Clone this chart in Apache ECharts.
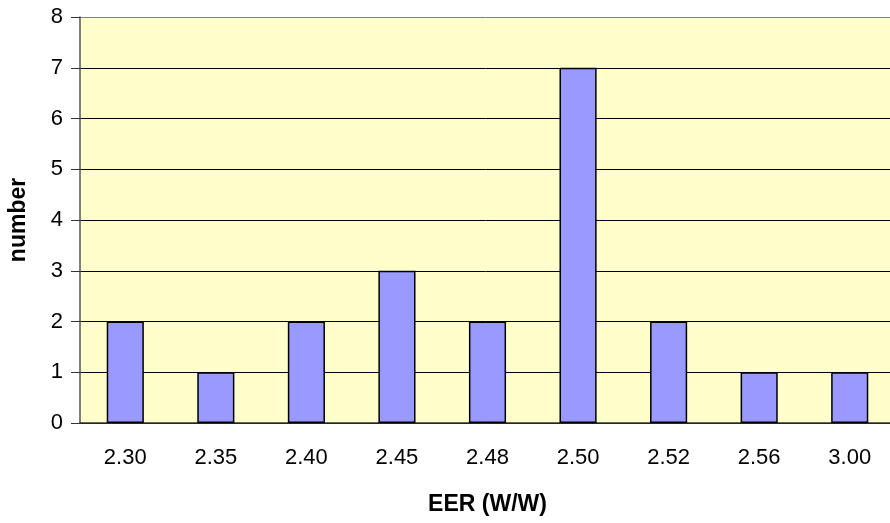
<!DOCTYPE html>
<html>
<head>
<meta charset="utf-8">
<script src="https://cdn.jsdelivr.net/npm/echarts@6/dist/echarts.min.js"></script>
<style>
  html, body { margin: 0; padding: 0; background: #fff; }
  #chart { width: 890px; height: 523px; }
</style>
</head>
<body>
<div id="chart"></div>
<script>
// EER categories and counts
const categories = ['2.30', '2.35', '2.40', '2.45', '2.48', '2.50', '2.52', '2.56', '3.00'];
const counts = [2, 1, 2, 3, 2, 7, 2, 1, 1];

// gridline colours, 0..8 (top one is the gray plot border)
const gridColors = ['#000', '#000', '#000', '#000', '#000', '#000', '#000', '#000', '#808080'];

const chart = echarts.init(document.getElementById('chart'));
chart.setOption({
  animation: false,
  textStyle: { fontFamily: 'Liberation Sans, Arial, sans-serif' },
  grid: {
    left: 80, right: -5, top: 17, bottom: 100,
    outerBoundsMode: 'none',
    backgroundColor: '#FFFFCC', show: true, borderWidth: 0
  },
  xAxis: {
    type: 'category',
    data: categories,
    name: 'EER (W/W)',
    nameLocation: 'middle',
    nameGap: 70,
    nameTextStyle: { fontSize: 23, fontWeight: 'bold', color: '#000' },
    axisLine: { lineStyle: { color: '#333', width: 1.5 } },
    axisTick: { length: 6, lineStyle: { color: '#333' } },
    axisLabel: { fontSize: 22, color: '#000', margin: 24 }
  },
  yAxis: {
    type: 'value',
    min: 0, max: 8, interval: 1,
    name: 'number',
    nameLocation: 'middle',
    nameGap: 50,
    nameTextStyle: { fontSize: 23, fontWeight: 'bold', color: '#000' },
    axisLine: { show: true, lineStyle: { color: '#555', width: 1.5 } },
    axisTick: { show: true, length: 9, lineStyle: { color: '#333' } },
    axisLabel: { fontSize: 22, color: '#000', margin: 17 },
    splitLine: { lineStyle: { color: gridColors, width: 1 } }
  },
  series: [{
    type: 'bar',
    data: counts,
    barWidth: '41%',
    itemStyle: { color: '#9999FF', borderColor: '#000', borderWidth: 1.5 }
  }]
});
</script>
</body>
</html>
